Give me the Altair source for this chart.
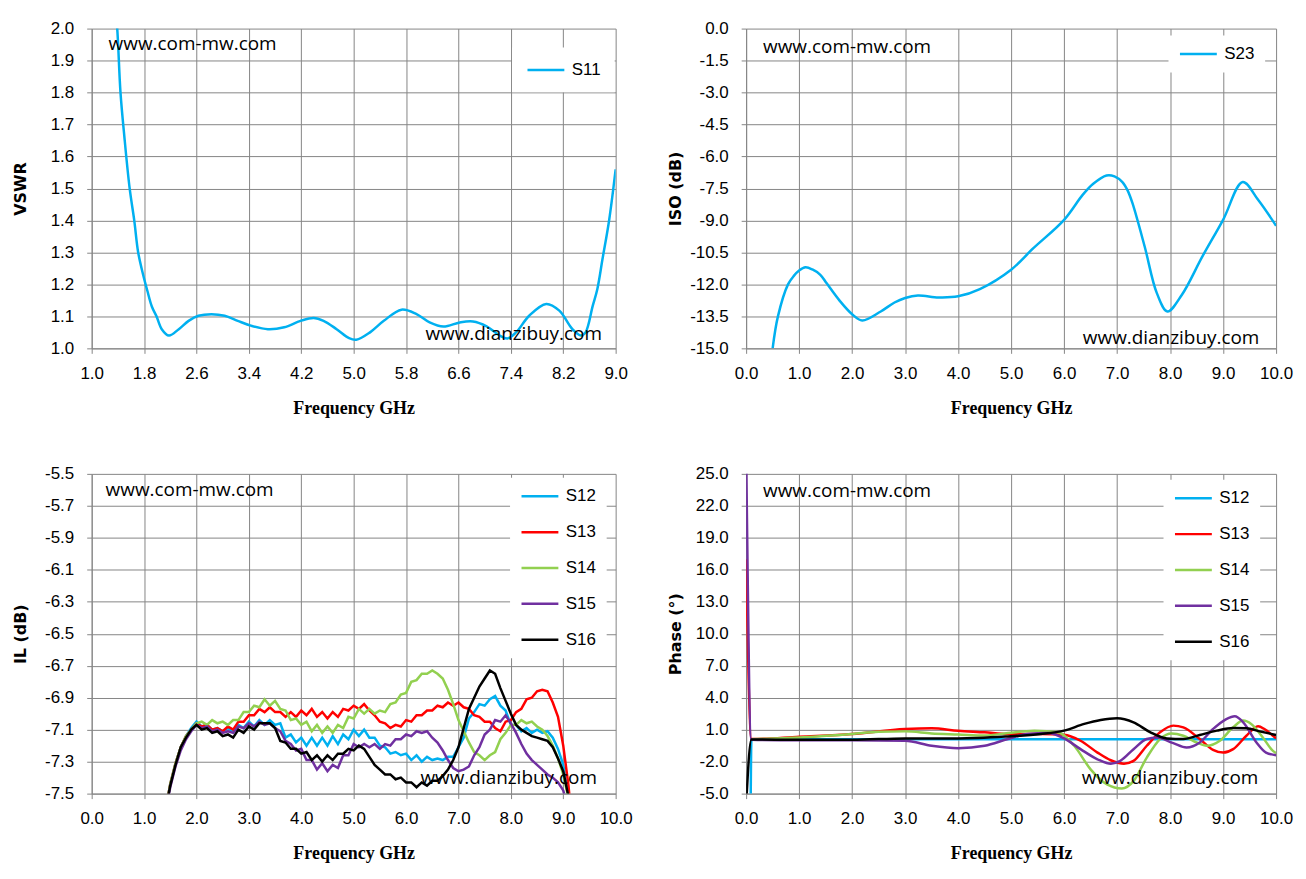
import altair as alt
import pandas as pd

# ---------------- Panel 1: VSWR (S11) ----------------
F11 = [1.36, 1.39, 1.44, 1.50, 1.58, 1.65, 1.71, 1.78, 1.85, 1.92,
       1.99, 2.07, 2.18, 2.33, 2.48, 2.63, 2.83, 3.03, 3.23, 3.43,
       3.69, 3.94, 4.19, 4.39, 4.54, 4.74, 4.93, 5.04, 5.25, 5.46,
       5.73, 5.96, 6.16, 6.37, 6.62, 6.82, 7.03, 7.23, 7.35, 7.48,
       7.68, 7.94, 8.14, 8.34, 8.47, 8.54, 8.65, 8.72, 8.80, 8.90, 9.0]
V11 = [2.06, 2.0, 1.8, 1.66, 1.5, 1.4, 1.3, 1.235, 1.18, 1.13,
       1.10, 1.06, 1.04, 1.06, 1.086, 1.102, 1.107, 1.102, 1.086, 1.071,
       1.06, 1.066, 1.086, 1.095, 1.086, 1.06, 1.032, 1.027, 1.05, 1.086,
       1.121, 1.107, 1.081, 1.068, 1.081, 1.084, 1.069, 1.04, 1.031, 1.05,
       1.102, 1.139, 1.118, 1.06, 1.04, 1.05, 1.133, 1.185, 1.28, 1.40, 1.56]

# ---------------- Panel 2: ISO (S23) ----------------
F23 = [0.5, 0.6, 0.79, 0.9, 1.0, 1.12, 1.25, 1.4, 1.52, 1.76,
       2.0, 2.19, 2.54, 2.8, 3.0, 3.24, 3.63, 4.0, 4.41, 5.0,
       5.42, 6.0, 6.35, 6.55, 6.8, 6.95, 7.1, 7.2, 7.29, 7.52,
       7.75, 7.95, 8.22, 8.61, 9.0, 9.37, 9.66, 10.0]
V23 = [-15.0, -13.5, -12.0, -11.6, -11.35, -11.2, -11.3, -11.55, -11.95, -12.75,
       -13.4, -13.69, -13.27, -12.85, -12.64, -12.52, -12.61, -12.56, -12.22, -11.31,
       -10.3, -8.97, -7.8, -7.28, -6.89, -6.93, -7.2, -7.6, -8.19, -10.22,
       -12.41, -13.27, -12.5, -10.69, -8.97, -7.2, -8.03, -9.25]

# ---------------- Panel 3: IL (S12..S16) ----------------
F_IL = [1.4, 1.5, 1.6, 1.7, 1.8, 1.9,
        2.0, 2.1, 2.2, 2.3, 2.4, 2.5, 2.6, 2.7, 2.8, 2.9,
        3.0, 3.1, 3.2, 3.3, 3.4, 3.5, 3.6, 3.7, 3.8, 3.9,
        4.0, 4.1, 4.2, 4.3, 4.4, 4.5, 4.6, 4.7, 4.8, 4.9,
        5.0, 5.1, 5.2, 5.3, 5.4, 5.5, 5.6, 5.7, 5.8, 5.9,
        6.0, 6.1, 6.2, 6.3, 6.4, 6.5, 6.6, 6.7, 6.8, 6.9,
        7.0, 7.1, 7.2, 7.3, 7.4, 7.5, 7.6, 7.7, 7.8, 7.9,
        8.0, 8.1, 8.2, 8.3, 8.4, 8.5, 8.6, 8.7, 8.8, 8.9,
        9.0, 9.1, 9.2]
IL_S12 = [-7.62, -7.44, -7.31, -7.21, -7.14, -7.09,
          -7.05, -7.08, -7.07, -7.10, -7.09, -7.11, -7.09, -7.11, -7.07, -7.09,
          -7.05, -7.08, -7.04, -7.07, -7.04, -7.07, -7.06, -7.15, -7.13, -7.18,
          -7.15, -7.20, -7.15, -7.20, -7.15, -7.20, -7.14, -7.19, -7.13, -7.16,
          -7.10, -7.14, -7.10, -7.15, -7.15, -7.20, -7.21, -7.25, -7.24, -7.26,
          -7.25, -7.29, -7.26, -7.30, -7.27, -7.29, -7.28, -7.29, -7.27, -7.27,
          -7.21, -7.15, -7.03, -6.99, -6.94, -6.95, -6.91, -6.89, -6.95, -6.98,
          -7.07, -7.07, -7.11, -7.09, -7.12, -7.10, -7.12, -7.11, -7.15, -7.22,
          -7.32, -7.52, -7.80]
IL_S13 = [-7.62, -7.44, -7.31, -7.21, -7.14, -7.10,
          -7.06, -7.08, -7.07, -7.10, -7.09, -7.11, -7.08, -7.10, -7.05, -7.05,
          -7.01, -7.01, -6.97, -6.99, -6.96, -6.99, -6.99, -7.02, -6.99, -7.02,
          -6.98, -7.01, -6.97, -7.02, -6.99, -7.03, -6.99, -7.02, -6.97, -6.98,
          -6.95, -6.97, -6.94, -6.98, -7.01, -7.05, -7.06, -7.09, -7.07, -7.08,
          -7.04, -7.05, -7.01, -7.01, -6.98, -6.98, -6.95, -6.96, -6.93, -6.95,
          -6.93, -6.96, -6.97, -7.01, -7.02, -7.05, -7.05, -7.09, -7.11, -7.05,
          -7.04, -6.99, -6.97, -6.91, -6.90, -6.86, -6.85, -6.86, -6.93, -7.02,
          -7.20, -7.45, -7.80]
IL_S14 = [-7.62, -7.44, -7.31, -7.21, -7.14, -7.10,
          -7.06, -7.05, -7.07, -7.04, -7.06, -7.05, -7.07, -7.04, -7.04, -6.99,
          -6.99, -6.95, -6.96, -6.91, -6.95, -6.92, -6.97, -6.98, -7.04, -7.03,
          -7.07, -7.05, -7.11, -7.07, -7.12, -7.08, -7.12, -7.07, -7.09, -7.02,
          -7.03, -6.97, -7.00, -6.97, -7.00, -6.98, -6.99, -6.94, -6.93, -6.88,
          -6.87, -6.80, -6.79, -6.75, -6.75, -6.73, -6.75, -6.78, -6.85, -6.94,
          -7.04, -7.11, -7.18, -7.24, -7.26, -7.29, -7.26, -7.24, -7.16, -7.12,
          -7.07, -7.07, -7.04, -7.06, -7.05, -7.08, -7.10, -7.14, -7.20, -7.28,
          -7.38, -7.53, -7.80]
IL_S15 = [-7.63, -7.46, -7.33, -7.23, -7.16, -7.11,
          -7.07, -7.09, -7.08, -7.11, -7.10, -7.12, -7.11, -7.12, -7.08, -7.09,
          -7.06, -7.08, -7.05, -7.07, -7.06, -7.09, -7.11, -7.17, -7.19, -7.23,
          -7.22, -7.29, -7.29, -7.35, -7.31, -7.36, -7.32, -7.34, -7.26, -7.26,
          -7.19, -7.21, -7.19, -7.21, -7.19, -7.22, -7.19, -7.20, -7.16, -7.16,
          -7.13, -7.14, -7.11, -7.12, -7.11, -7.15, -7.18, -7.23, -7.29, -7.34,
          -7.36, -7.35, -7.33, -7.26, -7.21, -7.13, -7.10, -7.04, -7.05, -7.01,
          -7.06, -7.12, -7.19, -7.25, -7.29, -7.32, -7.35, -7.38, -7.40, -7.43,
          -7.48, -7.60, -7.80]
IL_S16 = [-7.62, -7.45, -7.32, -7.21, -7.15, -7.10,
          -7.07, -7.10, -7.09, -7.12, -7.11, -7.14, -7.13, -7.15, -7.10, -7.12,
          -7.08, -7.10, -7.06, -7.06, -7.06, -7.09, -7.17, -7.18, -7.22, -7.22,
          -7.25, -7.24, -7.29, -7.26, -7.30, -7.26, -7.29, -7.25, -7.25, -7.22,
          -7.23, -7.20, -7.22, -7.27, -7.32, -7.35, -7.38, -7.38, -7.41, -7.40,
          -7.43, -7.43, -7.46, -7.43, -7.45, -7.42, -7.42, -7.39, -7.35, -7.29,
          -7.21, -7.09, -6.97, -6.90, -6.83, -6.78, -6.73, -6.75, -6.84, -6.92,
          -7.00, -7.07, -7.10, -7.12, -7.14, -7.15, -7.16, -7.17, -7.21, -7.28,
          -7.36, -7.52, -7.80]

# ---------------- Panel 4: Phase (S12..S16) ----------------
PH_F12 = [0.085, 0.1, 10.0]
PH_S12 = [-6.0, 0.1, 0.1]
PH_F13 = [0.0, 0.1, 1.0, 2.0, 3.0, 3.5, 4.0, 4.5, 4.94, 5.56, 6.0, 6.31, 6.63, 6.88,
          7.13, 7.31, 7.56, 7.81, 8.06, 8.25, 8.56, 8.81, 9.0, 9.19, 9.44, 9.66, 9.78, 9.94, 10.0]
PH_S13 = [17.0, 0.12, 0.34, 0.59, 1.06, 1.13, 0.9, 0.75, 0.59, 0.59, 0.53, -0.04, -1.15, -1.87,
          -2.19, -1.93, -0.51, 0.75, 1.38, 1.22, 0.12, -0.89, -1.15, -0.83, 0.43, 1.32, 1.06, 0.43, 0.18]
PH_F14 = [0.1, 1.0, 2.0, 2.5, 3.0, 3.5, 4.0, 4.5, 4.94, 5.44, 5.88, 6.19, 6.5, 6.81, 7.09,
          7.31, 7.56, 7.81, 8.03, 8.25, 8.5, 8.69, 8.94, 9.19, 9.38, 9.53, 9.75, 9.94, 10.0]
PH_S14 = [0.1, 0.27, 0.59, 0.81, 0.84, 0.65, 0.55, 0.45, 0.68, 0.91, 0.75, -0.51, -2.72, -4.14, -4.52,
          -3.83, -1.62, 0.12, 0.65, 0.43, -0.2, -0.51, -0.04, 1.22, 1.85, 1.54, 0.27, -0.99, -1.2]
PH_F15 = [0.0, 0.1, 1.0, 2.0, 3.0, 3.5, 4.0, 4.5, 4.94, 5.31, 5.69, 6.0, 6.31, 6.63, 6.88,
          7.06, 7.31, 7.56, 7.75, 8.06, 8.31, 8.56, 8.81, 9.06, 9.22, 9.38, 9.63, 9.81, 10.0]
PH_S15 = [27.0, 0.05, 0.0, 0.0, -0.04, -0.51, -0.74, -0.51, 0.12, 0.59, 0.68, 0.18, -0.83, -1.78, -2.19,
          -1.93, -0.83, 0.12, 0.27, -0.26, -0.67, -0.2, 1.06, 2.0, 2.26, 1.69, -0.2, -1.15, -1.4]
PH_F16 = [0.0, 0.1, 1.0, 2.0, 3.0, 4.0, 4.94, 5.56, 6.0, 6.38, 6.69, 7.0, 7.31, 7.63, 7.94,
          8.25, 8.56, 8.88, 9.19, 9.44, 9.69, 10.0]
PH_S16 = [-6.0, 0.08, 0.05, 0.05, 0.18, 0.18, 0.37, 0.59, 0.91, 1.54, 1.91, 2.07, 1.69, 0.75, 0.18,
          0.12, 0.5, 0.91, 1.16, 1.13, 0.84, 0.5]

# ---------------- Axis ticks ----------------
X1_TICKS = [1.0, 1.8, 2.6, 3.4, 4.2, 5.0, 5.8, 6.6, 7.4, 8.2, 9.0]
Y1_TICKS = [1.0, 1.1, 1.2, 1.3, 1.4, 1.5, 1.6, 1.7, 1.8, 1.9, 2.0]
X_TICKS = [0, 1, 2, 3, 4, 5, 6, 7, 8, 9, 10]
Y2_TICKS = [0.0, -1.5, -3.0, -4.5, -6.0, -7.5, -9.0, -10.5, -12.0, -13.5, -15.0]
Y3_TICKS = [-5.5, -5.7, -5.9, -6.1, -6.3, -6.5, -6.7, -6.9, -7.1, -7.3, -7.5]
Y4_TICKS = [25, 22, 19, 16, 13, 10, 7, 4, 1, -2, -5]

SERIES = ["S12", "S13", "S14", "S15", "S16"]
COLORS = ["#00B0F0", "#FF0000", "#92D050", "#7030A0", "#000000"]
BLUE = "#00B0F0"

LBL = "replace(format(datum.value, '.1f'), '\u2212', '-')"


def long_df(pairs):
    rows = []
    for name, fs, vs in pairs:
        assert len(fs) == len(vs), name
        for f, v in zip(fs, vs):
            rows.append({"f": f, "v": v, "s": name})
    return pd.DataFrame(rows)


def panel(df, domain, colors, xdom, ydom, xticks, yticks, ytitle, width,
          lx, ly, lpad, interp, wm1, wm2):
    lines = alt.Chart(df).mark_line(clip=True, strokeWidth=2.5, interpolate=interp).encode(
        x=alt.X("f:Q", scale=alt.Scale(domain=xdom, nice=False, zero=False),
                axis=alt.Axis(values=xticks, labelExpr=LBL, title="Frequency GHz")),
        y=alt.Y("v:Q", scale=alt.Scale(domain=ydom, nice=False, zero=False),
                axis=alt.Axis(values=yticks, labelExpr=LBL, title=ytitle)),
        color=alt.Color("s:N", scale=alt.Scale(domain=domain, range=colors),
                        legend=alt.Legend(title=None, orient="none", legendX=lx, legendY=ly,
                                          padding=lpad, fillColor="#FFFFFF")),
    )
    t1 = alt.Chart(pd.DataFrame({"t": ["www.com-mw.com"]})).mark_text(
        align="left", baseline="middle", font="Open Sans", fontSize=19, color="#000000"
    ).encode(x=alt.value(wm1[0]), y=alt.value(wm1[1]), text="t:N")
    t2 = alt.Chart(pd.DataFrame({"t": ["www.dianzibuy.com"]})).mark_text(
        align="left", baseline="middle", font="Open Sans", fontSize=19, color="#000000"
    ).encode(x=alt.value(wm2[0]), y=alt.value(wm2[1]), text="t:N")
    return alt.layer(lines, t1, t2).properties(width=width, height=321)


df1 = long_df([("S11", F11, V11)])
df2 = long_df([("S23", F23, V23)])
df3 = long_df([(n, F_IL, v) for n, v in zip(SERIES, [IL_S12, IL_S13, IL_S14, IL_S15, IL_S16])])
df4 = long_df([("S12", PH_F12, PH_S12), ("S13", PH_F13, PH_S13), ("S14", PH_F14, PH_S14),
               ("S15", PH_F15, PH_S15), ("S16", PH_F16, PH_S16)])

p1 = panel(df1, ["S11"], [BLUE], [1, 9], [1, 2], X1_TICKS, Y1_TICKS, "VSWR", 526,
           422, 19, 14, "catmull-rom", (17, 15), (335, 307))
p2 = panel(df2, ["S23"], [BLUE], [0, 10], [-15, 0], X_TICKS, Y2_TICKS, "ISO (dB)", 532,
           424, 7, 10, "catmull-rom", (17, 19), (338, 311))
p3 = panel(df3, SERIES, COLORS, [0, 10], [-7.5, -5.5], X_TICKS, Y3_TICKS, "IL (dB)", 526,
           420, 4, 10, "linear", (14, 16), (330, 305))
p4 = panel(df4, SERIES, COLORS, [0, 10], [-5, 25], X_TICKS, Y4_TICKS, "Phase (°)", 532,
           419, 6, 10, "monotone", (17, 17), (337, 305))

chart = alt.concat(
    p1, p2, p3, p4, columns=2, spacing={"row": 126, "column": 131}, bounds="flush", align="each"
).resolve_scale(
    x="independent", y="independent", color="independent"
).properties(
    padding={"left": 5, "top": 10, "right": 5, "bottom": 5}
).configure_view(
    strokeWidth=0
).configure_axis(
    labelFont="Liberation Sans", labelFontSize=17, labelColor="#000000",
    gridColor="#868686", gridWidth=1, domainColor="#868686", tickColor="#868686",
    tickSize=5, titleColor="#000000", labelOverlap=False
).configure_axisX(
    titleFont="Liberation Serif", titleFontSize=18, titleFontWeight="bold",
    labelFlush=False, labelPadding=12, titlePadding=18
).configure_axisY(
    titleFont="DejaVu Sans", titleFontSize=16, titleFontWeight="bold",
    labelPadding=13, titlePadding=15, minExtent=48, maxExtent=48
).configure_legend(
    labelFont="Liberation Sans", labelFontSize=17, labelColor="#000000",
    symbolType="stroke", symbolSize=1369, symbolStrokeWidth=2.5, labelOffset=6,
    rowPadding=18, clipHeight=17
)

chart.save("out.html", embed_options={"renderer": "svg", "actions": False})
